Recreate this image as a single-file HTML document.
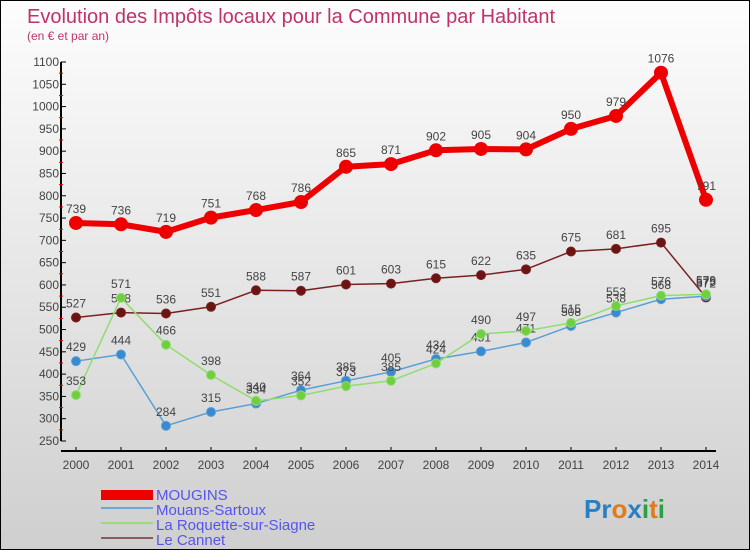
<!DOCTYPE html>
<html><head><meta charset="utf-8"><style>
body{margin:0}
#c{position:relative;width:748px;height:548px;border:1px solid #000;background:linear-gradient(#fdfdfd,#cfcfcf);font-family:"Liberation Sans",sans-serif;overflow:hidden}
svg text{font-family:"Liberation Sans",sans-serif}
</style></head><body>
<div id="c">
<svg id="s" width="748" height="548">
<text x="26" y="22" font-size="20" fill="#c0336a">Evolution des Impôts locaux pour la Commune par Habitant</text>
<text x="26" y="39" font-size="12" fill="#c0336a">(en € et par an)</text>
<g id="axes"></g><g id="series"></g>
<g font-size="15" fill="#5555ee">
<rect x="100" y="489" width="52" height="10" fill="#ee0000"/>
<text x="155" y="499">MOUGINS</text>
<rect x="100" y="506" width="52" height="2" fill="#6fa7d3"/>
<text x="155" y="514">Mouans-Sartoux</text>
<rect x="100" y="521" width="52" height="2" fill="#9fd97f"/>
<text x="155" y="529">La Roquette-sur-Siagne</text>
<rect x="100" y="536" width="52" height="2" fill="#8b5a5a"/>
<text x="155" y="544">Le Cannet</text>
</g>
<text x="583" y="517" font-size="26" font-weight="bold"><tspan fill="#2a7fc0">Pr</tspan><tspan fill="#e07a1a">o</tspan><tspan fill="#2a7fc0">x</tspan><tspan fill="#2aa040">i</tspan><tspan fill="#e07a1a">t</tspan><tspan fill="#2aa040">i</tspan></text>
</svg></div>
<script>
const years=[2000,2001,2002,2003,2004,2005,2006,2007,2008,2009,2010,2011,2012,2013,2014];
const mougins=[739,736,719,751,768,786,865,871,902,905,904,950,979,1076,791];
const mouans=[429,444,284,315,334,364,385,405,434,451,471,508,538,568,575];
const roquette=[353,571,466,398,340,352,373,385,424,490,497,515,553,576,579];
const cannet=[527,538,536,551,588,587,601,603,615,622,635,675,681,695,572];
const yTicks=[250,300,350,400,450,500,550,600,650,700,750,800,850,900,950,1000,1050,1100];
const NS='http://www.w3.org/2000/svg';
const X=i=>75+i*45, Y=v=>440-(v-250)*(379/850);
function mk(t,a,p){const e=document.createElementNS(NS,t);for(const k in a)e.setAttribute(k,a[k]);p.appendChild(e);return e;}
const ax=document.getElementById('axes');
const yl=mk('line',{x1:60,y1:Y(1100),x2:60,y2:Y(250),stroke:'#000','stroke-width':2},ax);


const xl=mk('line',{x1:60,y1:450,x2:715,y2:450,stroke:'#000','stroke-width':2},ax);


yTicks.forEach((v,i)=>{
 mk('line',{x1:60,y1:Y(v),x2:65,y2:Y(v),stroke:'#000'},ax);
 if(i<yTicks.length-1)mk('line',{x1:58,y1:Y(v+25),x2:62,y2:Y(v+25),stroke:'#e00'},ax);
 const t=mk('text',{x:58,y:Y(v)+4,'font-size':12,'text-anchor':'end',fill:'#444'},ax);
 t.textContent=v;
 
 
});
years.forEach((y,i)=>{
 mk('line',{x1:X(i),y1:446,x2:X(i),y2:450,stroke:'#000'},ax);
 const t=mk('text',{x:X(i),y:468,'font-size':12,'text-anchor':'middle',fill:'#444'},ax);
 t.textContent=y;
 
 
});
const sg=document.getElementById('series');
function draw(name,data,col,lw,r,fill){
 const g=mk('g',{},sg);
 
 
 const pl=mk('polyline',{points:data.map((v,i)=>X(i)+','+Y(v)).join(' '),fill:'none',stroke:col,'stroke-width':lw,'stroke-linejoin':'round'},g);
 
 
 data.forEach((v,i)=>{
  const c=mk('circle',{cx:X(i),cy:Y(v),r:r,fill:fill,stroke:col,'stroke-width':1},g);
  
  
  const t=mk('text',{x:X(i),y:Y(v)-10,'font-size':12,'text-anchor':'middle',fill:'#444'},g);
  t.textContent=v;
  
  
 });
}
draw('cannet',cannet,'#7a2020',1.5,4.5,'#6b1414');
draw('mouans',mouans,'#5a9fd4',1.5,4.5,'#3a8ad0');
draw('roquette',roquette,'#8fdd6f',1.5,4.5,'#6fcf3f');
draw('mougins',mougins,'#ee0000',6,6.5,'#ee0000');
</script>
</body></html>
